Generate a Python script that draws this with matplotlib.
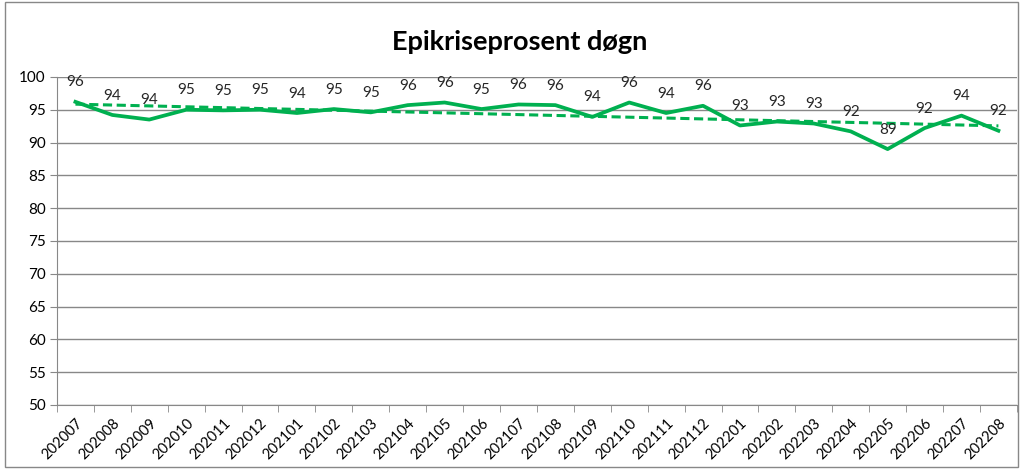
import numpy as np
import matplotlib.pyplot as plt
from matplotlib.patches import Rectangle

months = ["202007", "202008", "202009", "202010", "202011", "202012",
          "202101", "202102", "202103", "202104", "202105", "202106",
          "202107", "202108", "202109", "202110", "202111", "202112",
          "202201", "202202", "202203", "202204", "202205", "202206",
          "202207", "202208"]
values = [96.2, 94.2, 93.5, 95.0, 94.9, 95.0,
          94.5, 95.1, 94.6, 95.7, 96.1, 95.1,
          95.8, 95.7, 93.9, 96.1, 94.5, 95.6,
          92.6, 93.2, 92.9, 91.7, 89.0, 92.2,
          94.1, 91.8]

plt.rcParams["font.family"] = ["Lato", "DejaVu Sans"]
green = "#00B050"

fig = plt.figure(figsize=(10.23, 4.69), dpi=100)
ax = fig.add_axes([0.0557, 0.1365, 0.9383, 0.6995])

x = np.arange(len(months))
ax.plot(x, values, color=green, lw=2.7, zorder=3)

# linear trendline
coef = np.polyfit(x, values, 1)
ax.plot(x, np.polyval(coef, x), color=green, lw=2.2, ls=(0, (3, 1.5)), zorder=2)

for xi, v in zip(x, values):
    ax.annotate(f"{v:.0f}", (xi, v), xytext=(0, 14), textcoords="offset points",
                ha="center", va="center", fontsize=11, color="#262626")

ax.set_ylim(50, 100)
ax.set_yticks(np.arange(50, 101, 5))
ax.set_xlim(-0.5, len(months) - 0.5)
ax.set_xticks(x)
ax.set_xticklabels(months, rotation=45, ha="right", rotation_mode="anchor")
ax.set_xticks(np.arange(-0.5, len(months), 1), minor=True)
ax.tick_params(axis="x", which="major", length=0, pad=8, labelsize=10.5)
ax.tick_params(axis="x", which="minor", length=5, color="#888888")
ax.tick_params(axis="y", length=5, color="#888888", labelsize=11, pad=3)

ax.grid(axis="y", color="#888888", lw=1.0)
ax.set_axisbelow(True)
for side in ["top", "right"]:
    ax.spines[side].set_visible(False)
for side in ["left", "bottom"]:
    ax.spines[side].set_color("#888888")

fig.text(0.508, 0.91, "Epikriseprosent døgn", ha="center", va="center",
         fontsize=19.5, fontweight="bold")

fig.patches.append(Rectangle((0.005, 0.005), 0.99, 0.99, transform=fig.transFigure,
                             fill=False, edgecolor="#888888", lw=1.0))

fig.savefig("out.png", dpi=100)
